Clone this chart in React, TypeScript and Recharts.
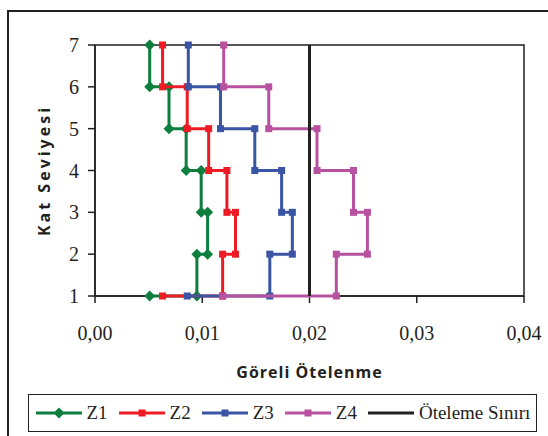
import React from "react";
import {
  ScatterChart,
  Scatter,
  XAxis,
  YAxis,
  ReferenceArea,
} from "recharts";

// kat seviyeleri ve göreli ötelenme (kat 1-2, 2-3, ... 6-7)
const floors = [1, 2, 3, 4, 5, 6, 7];
const xTicks = [0, 0.01, 0.02, 0.03, 0.04];

const z1Story = [0.0095, 0.0105, 0.0099, 0.0085, 0.0069, 0.0051];
const z2Story = [0.0119, 0.0131, 0.0123, 0.0106, 0.0086, 0.0063];
const z3Story = [0.0163, 0.0184, 0.0174, 0.0149, 0.0117, 0.0087];
const z4Story = [0.0225, 0.0254, 0.0241, 0.0207, 0.0162, 0.012];
const baseDrift = [0.0051, 0.0063, 0.0086, 0.0119];
const limitDrift = 0.02;

const seriesNames = ["Z1", "Z2", "Z3", "Z4"];
const colors = ["#0d7e3e", "#ed1c24", "#3a55a4", "#b8519f"];
const BLACK = "#231f20";

function stepProfile(story: number[], base: number) {
  const pts = [{ x: base, y: floors[0] }];
  story.forEach((d, i) => {
    pts.push({ x: d, y: floors[i] });
    pts.push({ x: d, y: floors[i + 1] });
  });
  return pts;
}

const profiles = [
  stepProfile(z1Story, baseDrift[0]),
  stepProfile(z2Story, baseDrift[1]),
  stepProfile(z3Story, baseDrift[2]),
  stepProfile(z4Story, baseDrift[3]),
];
const limitLine = [
  { x: limitDrift, y: floors[0] },
  { x: limitDrift, y: floors[floors.length - 1] },
];

const serif = "'Liberation Serif', 'Times New Roman', serif";
const sans = "'Open Sans', 'Noto Sans', sans-serif";

function Marker({ cx, cy, color, diamond }: any) {
  if (diamond) {
    return (
      <polygon
        points={`${cx},${cy - 5.5} ${cx + 5.5},${cy} ${cx},${cy + 5.5} ${cx - 5.5},${cy}`}
        fill={color}
      />
    );
  }
  return <rect x={cx - 3.5} y={cy - 3.5} width={7} height={7} fill={color} />;
}

function LegendItem({ label, color, marker, diamond }: any) {
  return (
    <div style={{ display: "flex", alignItems: "center", marginRight: 11 }}>
      <svg width={46} height={12}>
        <line x1={0} y1={6} x2={46} y2={6} stroke={color} strokeWidth={3} />
        {marker && <Marker cx={23} cy={6} color={color} diamond={diamond} />}
      </svg>
      <span style={{ marginLeft: 5 }}>{label}</span>
    </div>
  );
}

export default function App() {
  return (
    <div
      style={{
        position: "absolute",
        left: 0,
        top: 0,
        width: 548,
        height: 436,
        overflow: "hidden",
        background: "#fff",
      }}
    >
      <div
        style={{
          position: "absolute",
          left: 7,
          top: 10,
          width: 560,
          height: 450,
          border: `2px solid ${BLACK}`,
        }}
      />
      <div style={{ position: "absolute", left: 0, top: 0 }}>
        <ScatterChart
          width={548}
          height={436}
          margin={{ top: 45, right: 24, bottom: 0, left: 0 }}
        >
          <XAxis
            type="number"
            dataKey="x"
            domain={[0, 0.04]}
            ticks={xTicks}
            height={140}
            tickSize={7}
            tickMargin={23}
            tickFormatter={(v: number) => v.toFixed(2).replace(".", ",")}
            tick={{ fontFamily: serif, fontSize: 20, fill: BLACK }}
            axisLine={{ stroke: BLACK, strokeWidth: 1.5 }}
            tickLine={{ stroke: BLACK, strokeWidth: 1.5 }}
            label={{
              content: (p: any) => {
                const vb = p.viewBox;
                return (
                  <text
                    x={vb.x + vb.width / 2}
                    y={vb.y + 82}
                    textAnchor="middle"
                    fontFamily={sans}
                    fontWeight={700}
                    fontSize={16}
                    letterSpacing={1}
                    fill={BLACK}
                  >
                    Göreli Ötelenme
                  </text>
                );
              },
            }}
          />
          <YAxis
            type="number"
            dataKey="y"
            domain={[1, 7]}
            ticks={floors}
            width={95}
            tickSize={7}
            tickMargin={9}
            tick={{ fontFamily: serif, fontSize: 20, fill: BLACK }}
            axisLine={{ stroke: BLACK, strokeWidth: 1.5 }}
            tickLine={{ stroke: BLACK, strokeWidth: 1.5 }}
            label={{
              content: (p: any) => {
                const vb = p.viewBox;
                const cy = vb.y + vb.height / 2;
                return (
                  <text
                    x={50}
                    y={cy}
                    transform={`rotate(-90 50 ${cy})`}
                    textAnchor="middle"
                    fontFamily={sans}
                    fontWeight={700}
                    fontSize={16}
                    letterSpacing={3}
                    fill={BLACK}
                  >
                    Kat Seviyesi
                  </text>
                );
              },
            }}
          />
          <ReferenceArea
            x1={0}
            x2={0.04}
            y1={1}
            y2={7}
            fill="none"
            stroke={BLACK}
            strokeWidth={1.5}
          />
          {profiles.map((pts, i) => (
            <Scatter
              key={seriesNames[i]}
              name={seriesNames[i]}
              data={pts}
              fill={colors[i]}
              line={{ stroke: colors[i], strokeWidth: 3 }}
              lineType="joint"
              isAnimationActive={false}
              shape={(p: any) => (
                <Marker cx={p.cx} cy={p.cy} color={colors[i]} diamond={i === 0} />
              )}
            />
          ))}
          <Scatter
            name="Öteleme Sınırı"
            data={limitLine}
            fill={BLACK}
            line={{ stroke: BLACK, strokeWidth: 3 }}
            lineType="joint"
            isAnimationActive={false}
            shape={() => <g />}
          />
        </ScatterChart>
      </div>
      <div
        style={{
          position: "absolute",
          left: 28,
          top: 394,
          width: 509,
          height: 38,
          boxSizing: "border-box",
          border: `1.5px solid ${BLACK}`,
          display: "flex",
          alignItems: "center",
          paddingLeft: 6.5,
          fontFamily: serif,
          fontSize: 19,
          color: BLACK,
          whiteSpace: "nowrap",
        }}
      >
        {seriesNames.map((n, i) => (
          <LegendItem key={n} label={n} color={colors[i]} marker diamond={i === 0} />
        ))}
        <LegendItem label="Öteleme Sınırı" color={BLACK} marker={false} />
      </div>
    </div>
  );
}
